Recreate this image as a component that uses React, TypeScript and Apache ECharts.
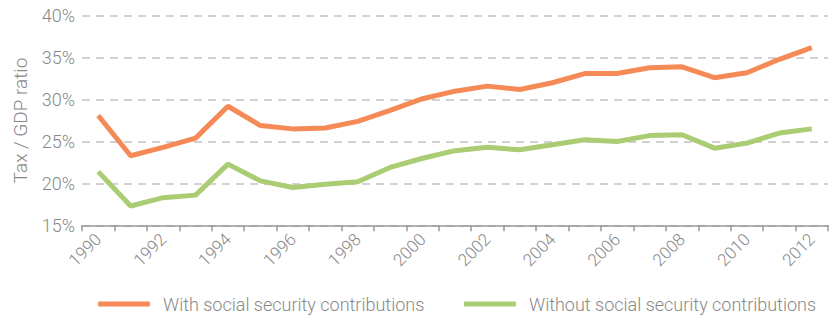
import React, { useEffect, useRef } from "react";
import * as echarts from "echarts";

const years = [
  "1990", "1991", "1992", "1993", "1994", "1995", "1996", "1997", "1998", "1999",
  "2000", "2001", "2002", "2003", "2004", "2005", "2006", "2007", "2008", "2009",
  "2010", "2011", "2012",
];
const withSSC = [
  28.1, 23.3, 24.3, 25.4, 29.2, 26.9, 26.5, 26.6, 27.4, 28.7,
  30.1, 31.0, 31.6, 31.2, 32.0, 33.1, 33.1, 33.8, 33.9, 32.6,
  33.2, 34.8, 36.2,
];
const withoutSSC = [
  21.4, 17.3, 18.3, 18.6, 22.3, 20.3, 19.5, 19.9, 20.2, 21.9,
  23.0, 23.9, 24.3, 24.0, 24.6, 25.2, 25.0, 25.7, 25.8, 24.2,
  24.8, 26.0, 26.5,
];
const seriesNames = ["With social security contributions", "Without social security contributions"];
const yTicks = { min: 15, max: 40, interval: 5 };

const ORANGE = "#F58A56";
const GREEN = "#AACC72";
const GRAY = "#888888";
const FONT = "Roboto";

export default function App() {
  const ref = useRef<HTMLDivElement>(null);
  useEffect(() => {
    if (!ref.current) return;
    const chart = echarts.init(ref.current, undefined, { renderer: "svg" });
    const legendBase = {
      orient: "horizontal" as const,
      top: 290,
      itemWidth: 52,
      itemHeight: 5,
      icon: "roundRect",
      textStyle: { color: GRAY, fontSize: 18, fontFamily: FONT, fontWeight: 300, padding: [0, 0, 0, 8] },
    };
    chart.setOption({
      animation: false,
      grid: { left: 82, right: 4, top: 15.7, bottom: 90.7, containLabel: false },
      legend: [
        { ...legendBase, left: 93, data: [{ name: seriesNames[0], itemStyle: { color: ORANGE } }] },
        { ...legendBase, left: 459, data: [{ name: seriesNames[1], itemStyle: { color: GREEN } }] },
      ],
      xAxis: {
        type: "category",
        data: years,
        boundaryGap: true,
        axisLine: { show: true, lineStyle: { color: "#999999", width: 1.5 } },
        axisTick: { show: true, length: 6, interval: 0, lineStyle: { color: "#999999", width: 1.5 } },
        axisLabel: {
          interval: 1,
          rotate: 45,
          margin: 11,
          color: GRAY,
          fontSize: 17,
          fontFamily: FONT,
          fontWeight: 300,
        },
        splitLine: { show: false },
      },
      yAxis: {
        type: "value",
        min: yTicks.min,
        max: yTicks.max,
        interval: yTicks.interval,
        name: "Tax / GDP ratio",
        nameLocation: "middle",
        nameGap: 52,
        nameRotate: 90,
        nameTextStyle: { color: GRAY, fontSize: 19, fontFamily: FONT, fontWeight: 300 },
        axisLine: { show: false },
        axisTick: { show: false },
        axisLabel: {
          formatter: "{value}%",
          color: GRAY,
          fontSize: 18,
          fontFamily: FONT,
          fontWeight: 300,
          margin: 7,
        },
        splitLine: {
          show: true,
          lineStyle: { color: "#c2c2c2", width: 1.5, type: [8, 6] },
        },
      },
      series: [
        {
          name: seriesNames[0],
          type: "line",
          data: withSSC,
          showSymbol: false,
          symbol: "none",
          lineStyle: { color: ORANGE, width: 5 },
          itemStyle: { color: ORANGE },
          z: 3,
        },
        {
          name: seriesNames[1],
          type: "line",
          data: withoutSSC,
          showSymbol: false,
          symbol: "none",
          lineStyle: { color: GREEN, width: 5 },
          itemStyle: { color: GREEN },
          z: 2,
        },
      ],
    });
    return () => chart.dispose();
  }, []);
  return <div ref={ref} style={{ width: 832, height: 316, position: "absolute", left: 0, top: 0 }} />;
}
